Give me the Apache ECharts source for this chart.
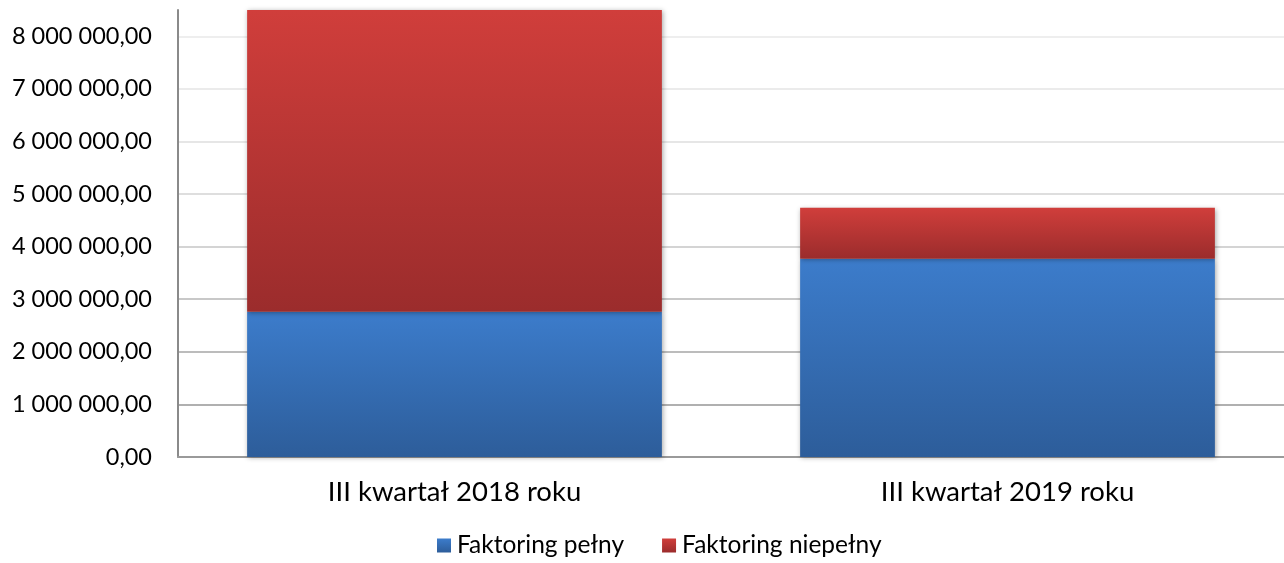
<!DOCTYPE html>
<html>
<head>
<meta charset="utf-8">
<script src="https://cdn.jsdelivr.net/npm/echarts@6/dist/echarts.min.js"></script>
<style>
html,body{margin:0;padding:0;background:#fff;}
#c{width:1284px;height:563px;}
</style>
</head>
<body>
<div id="c"></div>
<script>
const categories = ['III kwartał 2018 roku', 'III kwartał 2019 roku'];
const seriesNames = ['Faktoring pełny', 'Faktoring niepełny'];
const fullValues = [2760000, 3770000];
const partialValues = [5900000, 970000];
const yMax = 8500000;
const yInterval = 1000000;

const FONT = 'Lato';
function grad(top, bottom) {
  return new echarts.graphic.LinearGradient(0, 0, 0, 1, [
    {offset: 0, color: top}, {offset: 1, color: bottom}
  ]);
}
function fmt(v) {
  const s = Math.round(v).toString().replace(/\B(?=(\d{3})+(?!\d))/g, ' ');
  return s + ',00';
}
const chart = echarts.init(document.getElementById('c'), null, {renderer: 'canvas'});
const barShadow = {shadowBlur: 5, shadowColor: 'rgba(0,0,0,0.35)', shadowOffsetX: 1, shadowOffsetY: 1};
chart.setOption({
  animation: false,
  backgroundColor: '#ffffff',
  grid: {left: 178, right: 0, top: 10, bottom: 106, containLabel: false},
  legend: {
    bottom: 0,
    left: 432,
    itemWidth: 14, itemHeight: 14, itemGap: 38,
    icon: 'rect',
    textStyle: {fontFamily: FONT, fontSize: 24.5, color: '#000', padding: [0, 0, 0, 1]},
    data: seriesNames
  },
  xAxis: {
    type: 'category',
    data: categories,
    axisLine: {lineStyle: {color: '#9a9a9a', width: 2}},
    axisTick: {show: false},
    axisLabel: {fontFamily: FONT, fontSize: 27.5, color: '#000', margin: 21}
  },
  yAxis: {
    type: 'value',
    min: 0, max: yMax, interval: yInterval,
    axisLine: {show: true, lineStyle: {color: '#8a8a8a', width: 2}},
    axisTick: {show: false},
    axisLabel: {
      fontFamily: FONT, fontSize: 23.5, color: '#000', margin: 26,
      formatter: v => (v % yInterval === 0 ? fmt(v) : '')
    },
    splitLine: {lineStyle: {
      width: 2,
      color: ['#a8a8a8', '#b0b0b0', '#bcbcbc', '#c8c8c8', '#d4d4d4', '#dedede', '#e6e6e6', '#ebebeb', '#eeeeee', 'rgba(0,0,0,0)']
    }}
  },
  series: [
    {
      name: seriesNames[0], type: 'bar', stack: 'a', data: fullValues,
      barWidth: '75%',
      itemStyle: Object.assign({color: grad('#3c7ccb', '#2d5d9a')}, barShadow)
    },
    {
      name: seriesNames[1], type: 'bar', stack: 'a', data: partialValues,
      barWidth: '75%',
      itemStyle: Object.assign({color: grad('#d03e3b', '#9b2c2c')}, barShadow)
    }
  ]
});
</script>
</body>
</html>
